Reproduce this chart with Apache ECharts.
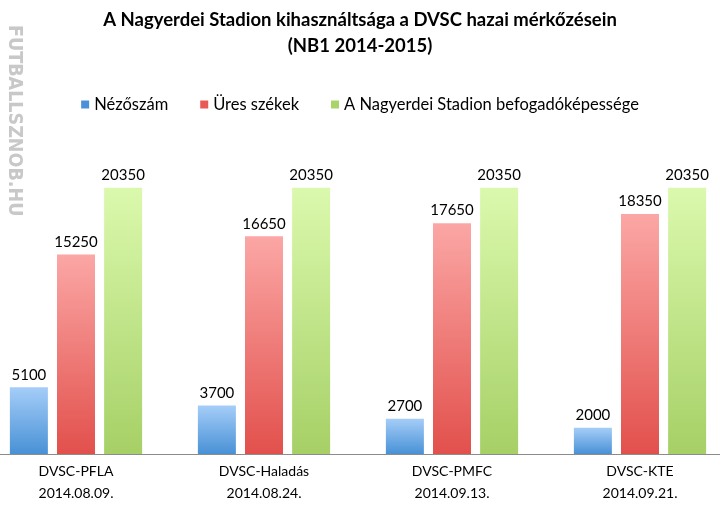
<!DOCTYPE html>
<html><head><meta charset="utf-8">
<script src="https://cdn.jsdelivr.net/npm/echarts@6/dist/echarts.min.js"></script>
<style>html,body{margin:0;padding:0;background:#fff}#c{width:720px;height:507px}</style>
</head><body><div id="c"></div>
<script>
const categories = ['DVSC-PFLA\n2014.08.09.', 'DVSC-Haladás\n2014.08.24.', 'DVSC-PMFC\n2014.09.13.', 'DVSC-KTE\n2014.09.21.'];
const nezoszam = [5100, 3700, 2700, 2000];
const uresSzekek = [15250, 16650, 17650, 18350];
const befogado = [20350, 20350, 20350, 20350];
const seriesNames = ['Nézőszám', 'Üres székek', 'A Nagyerdei Stadion befogadóképessége'];

const F = 'Lato, "Open Sans", sans-serif';
function grad(top, bottom) {
  return new echarts.graphic.LinearGradient(0, 0, 0, 1, [{offset: 0, color: top}, {offset: 1, color: bottom}]);
}
const label = {show: true, position: 'top', color: '#000', fontSize: 15, fontFamily: F, distance: 5};
const chart = echarts.init(document.getElementById('c'));
chart.setOption({
  animation: false,
  title: {
    text: 'A Nagyerdei Stadion kihasználtsága a DVSC hazai mérkőzésein\n(NB1 2014-2015)',
    left: 'center', top: 2,
    textStyle: {fontFamily: F, fontWeight: 'bold', fontSize: 18.5, lineHeight: 26, color: '#000'}
  },
  legend: {
    top: 91, left: 'center', itemWidth: 8, itemHeight: 8, itemGap: 32, icon: 'rect',
    textStyle: {fontFamily: F, fontSize: 16.5, color: '#000'},
    data: [
      {name: seriesNames[0], itemStyle: {color: '#4a90d9'}},
      {name: seriesNames[1], itemStyle: {color: '#e85a56'}},
      {name: seriesNames[2], itemStyle: {color: '#a9d46a'}}
    ]
  },
  graphic: [{
    type: 'text', rotation: -Math.PI / 2,
    x: 24, y: 25,
    style: {text: 'FUTBALLSZNOB.HU', fill: '#c8c8c8', font: 'bold 19.5px "DejaVu Sans Condensed", sans-serif'}
  }],
  grid: {left: -18, right: -14, top: 127, bottom: 53, outerBoundsMode: 'none', containLabel: false},
  xAxis: {
    type: 'category', data: categories,
    axisLine: {lineStyle: {color: '#8c8c8c', width: 1}},
    axisTick: {show: false},
    axisLabel: {color: '#000', fontFamily: F, fontSize: 14, lineHeight: 22, margin: 6}
  },
  yAxis: {type: 'value', min: 0, max: 25000, show: false, splitLine: {show: false}},
  series: [
    {name: seriesNames[0], type: 'bar', data: nezoszam, barWidth: 38, barGap: '24%',
     itemStyle: {color: grad('#a5cdf8', '#4891d6')}, label},
    {name: seriesNames[1], type: 'bar', data: uresSzekek, barWidth: 38, barGap: '24%',
     itemStyle: {color: grad('#fba7a5', '#e2504c')}, label},
    {name: seriesNames[2], type: 'bar', data: befogado, barWidth: 38, barGap: '24%',
     itemStyle: {color: grad('#dbf9ad', '#a6d066')}, label}
  ]
});
</script></body></html>
